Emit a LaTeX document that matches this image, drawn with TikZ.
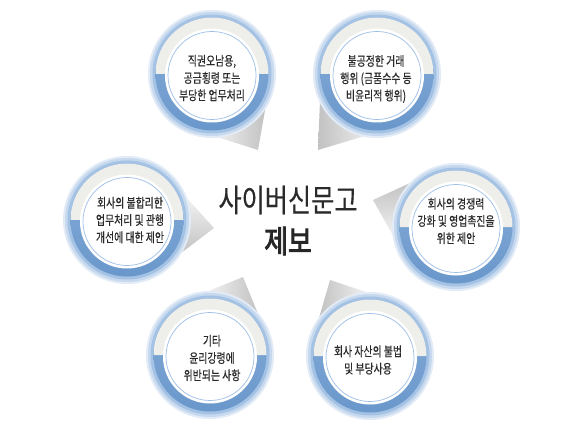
\documentclass[tikz,border=0pt]{standalone}
\usepackage{fontspec}
\usetikzlibrary{calc}
\newfontfamily\cjk[FakeStretch=0.76,FakeBold=0.4]{Noto Sans CJK KR}
\newfontfamily\cjktitle[FakeStretch=0.8,FakeBold=0.3]{Noto Sans CJK KR}
\newfontfamily\cjktitleb[FakeStretch=0.82,FakeBold=2.6]{Noto Sans CJK KR}
\definecolor{halo}{HTML}{E2EBF6}
\definecolor{haloin}{HTML}{C6D9EF}
\definecolor{ring}{HTML}{A4C2E4}
\definecolor{bandgray}{HTML}{EEEEEA}
\definecolor{bandblueA}{HTML}{87AED9}
\definecolor{bandblueB}{HTML}{6A97CB}
\definecolor{thinline}{HTML}{9DBEE7}
\definecolor{txt}{HTML}{2A2A2A}
\definecolor{wl}{HTML}{F3F3F3}
\definecolor{wd}{HTML}{C2C2C2}
\tikzset{
  btext/.style={align=center, font=\cjk\fontsize{13}{17.3}\selectfont, text=txt, inner sep=0pt},
  titletext/.style={font=\cjktitle\fontsize{31.5}{33}\selectfont, text=txt, inner sep=0pt},
  titlebold/.style={font=\cjktitleb\fontsize{31.5}{33}\selectfont, text=black!85, inner sep=0pt},
}
\begin{document}
\begin{tikzpicture}[x=1pt,y=-1pt]
\useasboundingbox (0,0) rectangle (572,430);
\fill[white] (0,0) rectangle (572,430);
% circle centres
\coordinate (c1) at (212,74);
\coordinate (c2) at (377,74);
\coordinate (c3) at (127,220);
\coordinate (c4) at (456,227);
\coordinate (c5) at (210,355);
\coordinate (c6) at (370,356);
% pointer tips
\coordinate (t1) at (258,150);
\coordinate (t2) at (318,150);
\coordinate (t3) at (214,228);
\coordinate (t4) at (373,200);
\coordinate (t5) at (243,277);
\coordinate (t6) at (330,280);
% pointers
\shade[left color=wl, right color=wd] (t1) -- ($(c1)!63pt!27:(t1)$) -- (c1) -- ($(c1)!63pt!-27:(t1)$) -- cycle;
\shade[left color=wd, right color=wl] (t2) -- ($(c2)!63pt!27:(t2)$) -- (c2) -- ($(c2)!63pt!-27:(t2)$) -- cycle;
\shade[top color=wl, bottom color=wd] (t3) -- ($(c3)!63pt!27:(t3)$) -- (c3) -- ($(c3)!63pt!-27:(t3)$) -- cycle;
\shade[top color=wd, bottom color=wl] (t4) -- ($(c4)!63pt!27:(t4)$) -- (c4) -- ($(c4)!63pt!-27:(t4)$) -- cycle;
\shade[left color=wl, right color=wd] (t5) -- ($(c5)!63pt!27:(t5)$) -- (c5) -- ($(c5)!63pt!-27:(t5)$) -- cycle;
\shade[left color=wd, right color=wl] (t6) -- ($(c6)!63pt!27:(t6)$) -- (c6) -- ($(c6)!63pt!-27:(t6)$) -- cycle;
% discs
\foreach \i in {1,...,6}{
  \fill[halo] (c\i) circle[radius=64];
  \fill[haloin] (c\i) circle[radius=62];
  \fill[ring] (c\i) circle[radius=59.5];
  \shade[top color=bandblueA, bottom color=bandblueB] (c\i) circle[radius=56.5];
  \fill[bandgray] ($(c\i)+(56.5,0)$) arc[start angle=0, end angle=-180, radius=56.5] -- cycle;
  \fill[white] ($(c\i)+(0,1.5)$) circle[radius=47];
  \draw[thinline, line width=0.7pt] ($(c\i)+(0,1.5)$) circle[radius=44];
}
% texts
\node[btext] (n1) at (212,78) {직권오남용,\\공금횡령 또는\\부당한 업무처리};
\node[btext] (n2) at (376,79) {불공정한 거래\\행위 (금품수수 등\\비윤리적 행위)};
\node[btext] (n3) at (130,220) {회사의 불합리한\\업무처리 및 관행\\개선에 대한 제안};
\node[btext] (n4) at (456,221) {회사의 경쟁력\\강화 및 영업촉진을\\위한 제안};
\node[btext] (n5) at (212,358) {기타\\윤리강령에\\위반되는 사항};
\node[btext] (n6) at (368,360) {회사 자산의 불법\\및 부당사용};
\node[titletext] (title1) at (288,200) {사이버신문고};
\node[titlebold] (title2) at (288,241) {제보};
\end{tikzpicture}
\end{document}
